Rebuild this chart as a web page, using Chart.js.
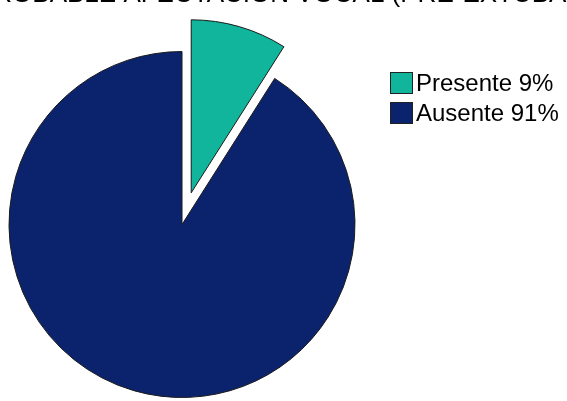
<!DOCTYPE html>
<html>
<head>
<meta charset="utf-8">
<script src="https://cdn.jsdelivr.net/npm/chart.js@4"></script>
<style>
  html, body { margin: 0; padding: 0; background: #fff; }
  #wrap { width: 567px; height: 401px; }
</style>
</head>
<body>
<div id="wrap"><canvas id="pieChart" width="567" height="401"></canvas></div>
<script>
    const titleText = 'PROBABLE AFECTACIÓN VOCAL (PRE-EXTUBACIÓN)';
    const categories = ['Presente', 'Ausente'];
    const percentages = [9, 91];
    const sliceColors = ['#10b59c', '#0b236c'];
    // pulled-out distance per slice (px); done by hand because chart.js' own
    // offset also grows the radius of the slice
    const explode = [33, 0];

    const explodeSlices = {
        id: 'explodeSlices',
        afterDatasetUpdate(chart, args) {
            const arcs = chart.getDatasetMeta(args.index).data;
            arcs.forEach(function(arc, i) {
                const d = explode[i] || 0;
                if (!d) return;
                const mid = (arc.startAngle + arc.endAngle) / 2;
                arc.x += Math.cos(mid) * d;
                arc.y += Math.sin(mid) * d;
            });
        }
    };

    // title sits mostly above the canvas, like the cropped reference
    const topTitle = {
        id: 'topTitle',
        afterDraw(chart) {
            const ctx = chart.ctx;
            ctx.save();
            ctx.fillStyle = '#000';
            ctx.font = '26px "Liberation Sans", Arial, sans-serif';
            ctx.textBaseline = 'alphabetic';
            ctx.textAlign = 'left';
            ctx.fillText(titleText, -24, 2);
            ctx.restore();
        }
    };

    const sideLegend = {
        id: 'sideLegend',
        afterDraw(chart) {
            const ctx = chart.ctx;
            const ds = chart.data.datasets[0];
            ctx.save();
            ctx.font = '24px "Liberation Sans", Arial, sans-serif';
            ctx.textBaseline = 'middle';
            chart.data.labels.forEach(function(label, i) {
                const y = 72 + i * 30;
                ctx.fillStyle = ds.backgroundColor[i];
                ctx.fillRect(390, y, 23, 22);
                ctx.strokeStyle = '#222';
                ctx.lineWidth = 1;
                ctx.strokeRect(390.5, y + 0.5, 22, 21);
                ctx.fillStyle = '#000';
                ctx.fillText(label + ' ' + ds.data[i] + '%', 416, y + 12);
            });
            ctx.restore();
        }
    };

    new Chart(document.getElementById('pieChart').getContext('2d'), {
        type: 'pie',
        data: {
            labels: categories,
            datasets: [{
                data: percentages,
                backgroundColor: sliceColors,
                borderColor: '#1a1a1a',
                borderWidth: 1
            }]
        },
        options: {
            responsive: false,
            animation: false,
            radius: 173,
            layout: { padding: { left: 0, right: 203, top: 48, bottom: 0 } },
            plugins: {
                legend: { display: false },
                title: { display: false },
                tooltip: { enabled: false }
            }
        },
        plugins: [explodeSlices, topTitle, sideLegend]
    });
</script>
</body>
</html>
